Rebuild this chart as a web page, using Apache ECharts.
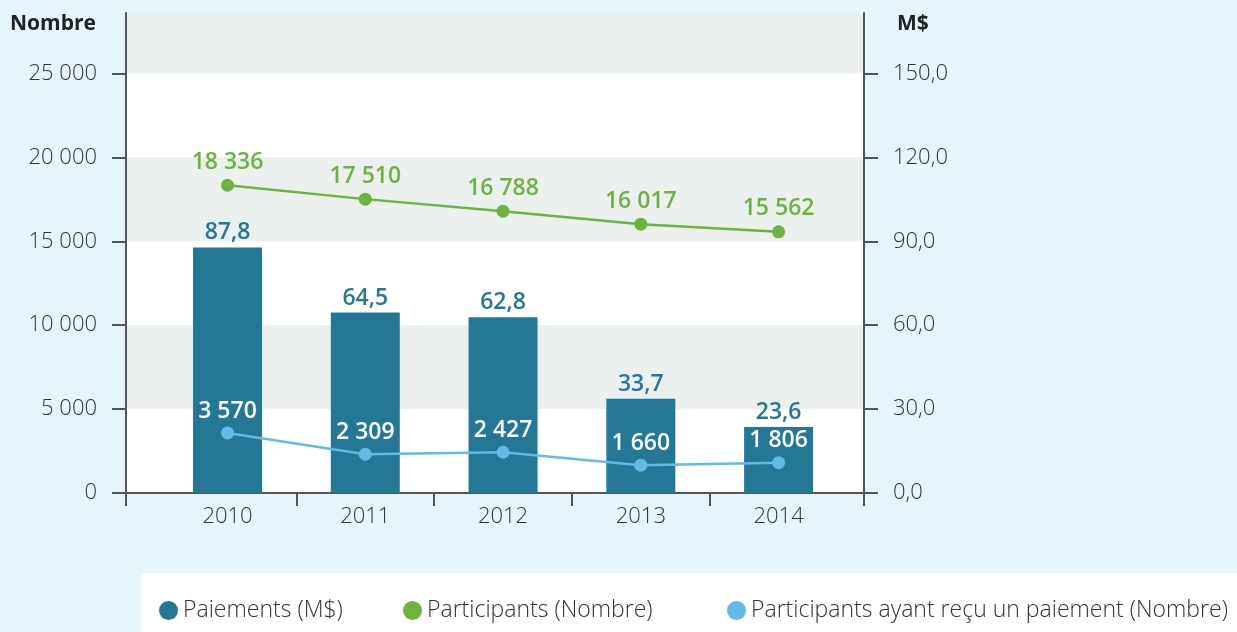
<!DOCTYPE html>
<html><head><meta charset="utf-8">
<script src="https://cdn.jsdelivr.net/npm/echarts@6/dist/echarts.min.js"></script>
<style>html,body{margin:0;padding:0;background:#e6f4fc;}#c{width:1237px;height:632px;}</style>
</head><body><div id="c"></div>
<script>
const categories = ['2010','2011','2012','2013','2014'];
const paiements = [87.8, 64.5, 62.8, 33.7, 23.6];
const participants = [18336, 17510, 16788, 16017, 15562];
const participantsPayes = [3570, 2309, 2427, 1660, 1806];
const leftTicks = [0, 5000, 10000, 15000, 20000, 25000];
const rightTicks = [0, 30, 60, 90, 120, 150];

const FONT = "'Open Sans', Lato, sans-serif";
const fmtN = v => String(Math.round(v)).replace(/\B(?=(\d{3})+(?!\d))/g, ' ');
const fmtD = v => v.toFixed(1).replace('.', ',');
const leftMax = 28600;
const axisCol = '#555';
// x axis in category-index units, with uneven padding as in the reference
const xMin = -0.737, xMax = 4.62;
const catIdx = categories.map((c, i) => i);
const xTicks = [xMin].concat(catIdx.slice(1).map(i => i - 0.5), [xMax]);
const pairs = arr => arr.map((v, i) => [i, v]);

const legendText = { fontFamily: FONT, fontSize: 23, fontWeight: 300, color: '#333' };
const legendBase = { top: 594, itemWidth: 19, itemHeight: 19, icon: 'circle', itemGap: 14, textStyle: legendText };

const chart = echarts.init(document.getElementById('c'));
chart.setOption({
  backgroundColor: '#e6f4fc',
  textStyle: { fontFamily: FONT },
  title: [
    { text: 'Nombre', left: 10, top: 14, padding: 0, textStyle: { fontFamily: FONT, fontSize: 21, fontWeight: 'bold', color: '#222' } },
    { text: 'M$', left: 897, top: 14, padding: 0, textStyle: { fontFamily: FONT, fontSize: 21, fontWeight: 'bold', color: '#222' } }
  ],
  graphic: [{ type: 'rect', left: 141, top: 573, shape: { width: 1100, height: 70 }, style: { fill: '#fff' }, z: -1 }],
  legend: [
    Object.assign({ left: 154, data: ['Paiements (M$)'] }, legendBase),
    Object.assign({ left: 398, data: ['Participants (Nombre)'] }, legendBase),
    Object.assign({ left: 722, data: ['Participants ayant reçu un paiement (Nombre)'] }, legendBase)
  ],
  grid: { left: 126, right: 373, top: 13, bottom: 139, show: true, backgroundColor: '#ebefee', borderWidth: 0 },
  xAxis: {
    type: 'value', min: xMin, max: xMax,
    axisLine: { show: true, onZero: false, lineStyle: { color: axisCol, width: 2 } },
    axisTick: { show: true, length: 13, customValues: xTicks, lineStyle: { color: axisCol, width: 2 } },
    axisLabel: { margin: 13, fontSize: 22, fontWeight: 300, color: '#333', fontFamily: FONT, customValues: catIdx, formatter: v => categories[Math.round(v)] },
    splitLine: { show: false }
  },
  yAxis: [
    {
      type: 'value', min: 0, max: leftMax, interval: 5000, position: 'left',
      axisLine: { show: true, onZero: false, lineStyle: { color: axisCol, width: 2 } },
      axisTick: { show: true, length: 14, customValues: leftTicks, lineStyle: { color: axisCol, width: 2 } },
      axisLabel: { margin: 29, fontSize: 22, fontWeight: 300, color: '#333', fontFamily: FONT, customValues: leftTicks, formatter: v => fmtN(v) },
      splitLine: { show: false },
      splitArea: { show: true, areaStyle: { color: ['#ffffff', '#ebefee'] } }
    },
    {
      type: 'value', min: 0, max: leftMax * 0.006, interval: 30, position: 'right',
      axisLine: { show: true, onZero: false, lineStyle: { color: axisCol, width: 2 } },
      axisTick: { show: true, length: 14, customValues: rightTicks, lineStyle: { color: axisCol, width: 2 } },
      axisLabel: { margin: 29, fontSize: 22, fontWeight: 300, color: '#333', fontFamily: FONT, customValues: rightTicks, formatter: v => fmtD(v) },
      splitLine: { show: false }, splitArea: { show: false }
    }
  ],
  series: [
    {
      name: 'Paiements (M$)', type: 'bar', yAxisIndex: 1, data: pairs(paiements), barWidth: 69,
      itemStyle: { color: '#247896' },
      label: { show: true, position: 'top', distance: 3, color: '#247896', fontSize: 23, fontWeight: 600, fontFamily: FONT, formatter: p => fmtD(p.value[1]) }
    },
    {
      name: 'Participants (Nombre)', type: 'line', yAxisIndex: 0, data: pairs(participants),
      symbol: 'circle', symbolSize: 13, lineStyle: { color: '#6db33f', width: 2.5 }, itemStyle: { color: '#6db33f' },
      label: { show: true, position: 'top', distance: 5, color: '#6db33f', fontSize: 23, fontWeight: 600, fontFamily: FONT, formatter: p => fmtN(p.value[1]) }
    },
    {
      name: 'Participants ayant reçu un paiement (Nombre)', type: 'line', yAxisIndex: 0, data: pairs(participantsPayes),
      symbol: 'circle', symbolSize: 13, lineStyle: { color: '#61bbe2', width: 2.5 }, itemStyle: { color: '#61bbe2' },
      label: { show: true, position: 'top', distance: 4, color: '#ffffff', fontSize: 23, fontWeight: 600, fontFamily: FONT, formatter: p => fmtN(p.value[1]) }
    }
  ]
});
</script></body></html>
